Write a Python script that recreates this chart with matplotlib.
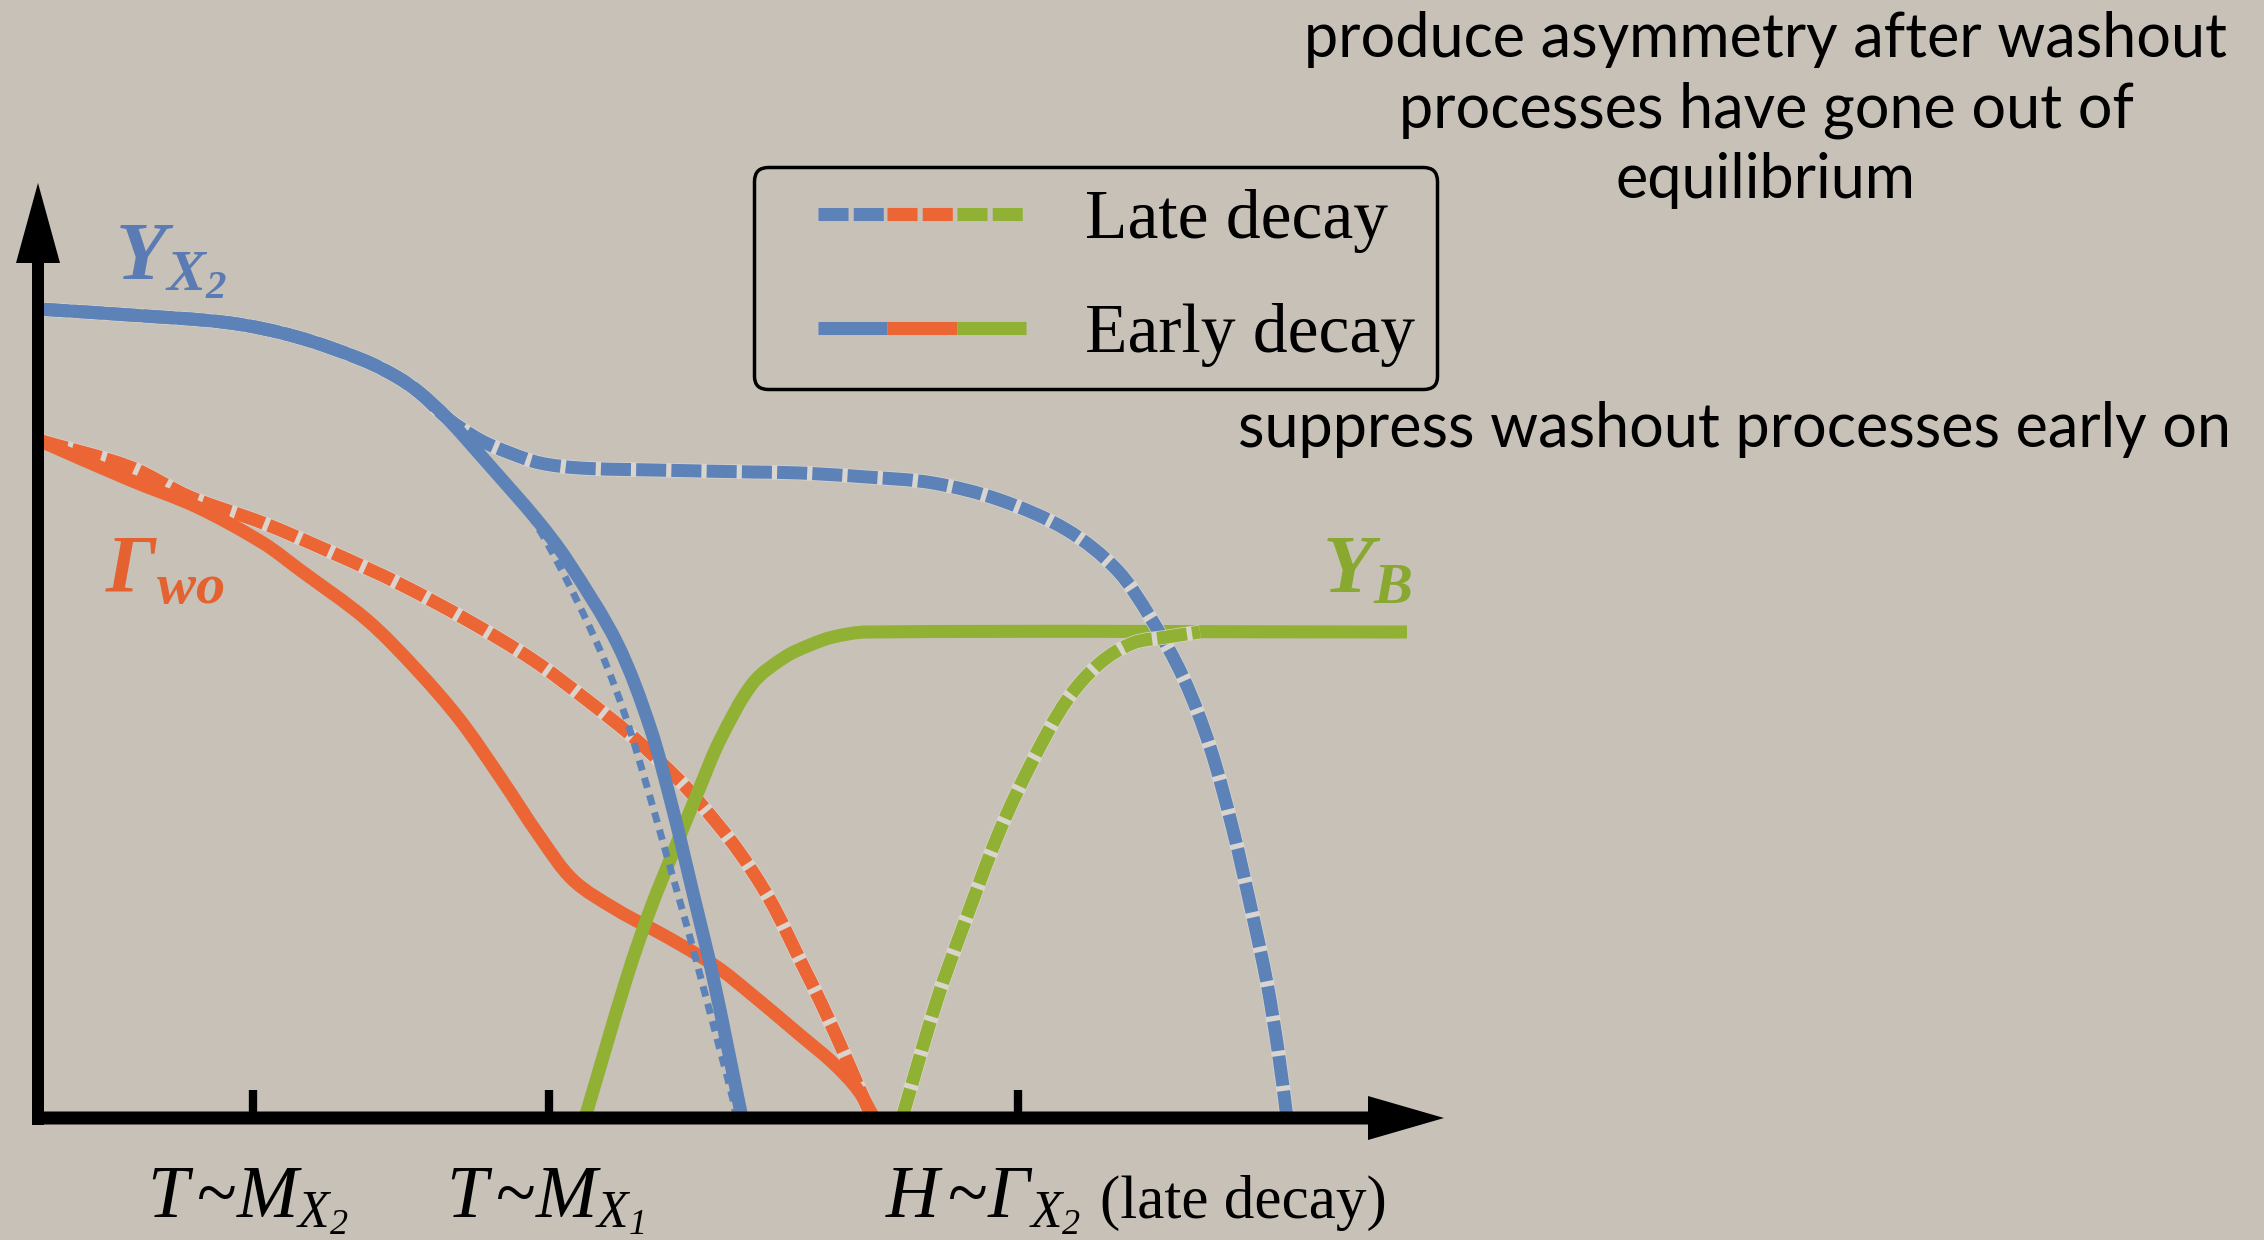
import matplotlib
matplotlib.use("Agg")
import numpy as np
import matplotlib.pyplot as plt
from matplotlib.lines import Line2D
from matplotlib.legend_handler import HandlerTuple
from matplotlib.path import Path
from matplotlib.patches import PathPatch

plt.rcParams.update({
    "mathtext.fontset": "custom",
    "mathtext.rm": "Liberation Serif",
    "mathtext.it": "Liberation Serif:italic",
    "mathtext.bf": "Liberation Serif:bold",
    "mathtext.bfit": "Liberation Serif:italic:bold",
    "mathtext.sf": "Liberation Serif:italic",
    "mathtext.fallback": "stix",
})

BG = "#c7c1b7"
GAP = "#d9d5ce"
BLUE = "#5c82b8"
ORANGE = "#eb6535"
GREEN = "#91b134"

# Y_X2 abundance, early decay (solid)
yx2_early_x = [0.00, 0.92, 1.92, 2.59, 3.25, 3.59, 3.82, 4.09, 4.52, 4.99, 5.29,
               5.79, 6.12, 6.35, 6.55, 6.75, 7.04]
yx2_early_y = [8.09, 8.03, 7.95, 7.81, 7.58, 7.41, 7.25, 7.00, 6.52, 5.98, 5.58,
               4.75, 3.91, 3.08, 2.25, 1.41, 0.00]

# Y_X2 variant (dotted)
yx2_alt_x = [4.09, 4.62, 4.92, 5.22, 5.62, 5.87, 6.10, 6.30, 6.50, 6.66, 6.82, 6.95, 6.98]
yx2_alt_y = [7.00, 6.40, 6.03, 5.51, 4.68, 4.03, 3.28, 2.58, 1.88, 1.28, 0.68, 0.18, 0.00]

# Y_X2 abundance, late decay (dashed)
yx2_late_x = [0.00, 0.92, 1.92, 2.59, 3.25, 3.59, 3.82, 4.09, 4.42, 4.72, 5.02,
              5.42, 6.15, 7.15, 7.62, 8.29, 8.95, 9.62, 10.29, 10.79, 11.12,
              11.45, 11.72, 11.95, 12.15, 12.29, 12.40, 12.49]
yx2_late_y = [8.09, 8.03, 7.95, 7.81, 7.58, 7.41, 7.25, 7.00, 6.78, 6.65, 6.55,
              6.50, 6.48, 6.46, 6.45, 6.41, 6.35, 6.18, 5.88, 5.48, 5.01,
              4.41, 3.71, 2.88, 2.01, 1.35, 0.68, 0.00]

# washout rate, early decay (solid)
gwo_early_x = [0.00, 0.92, 1.59, 2.25, 2.62, 3.29, 3.79, 4.22, 4.62, 5.02, 5.35,
               5.79, 6.29, 6.79, 7.12, 7.62, 7.95, 8.20, 8.36]
gwo_early_y = [6.78, 6.38, 6.11, 5.75, 5.48, 4.98, 4.48, 3.98, 3.41, 2.81, 2.38,
               2.08, 1.81, 1.51, 1.25, 0.83, 0.55, 0.28, 0.00]

# washout rate, late decay (dashed)
gwo_late_x = [0.00, 0.92, 1.52, 2.25, 2.95, 3.62, 4.29, 4.95, 5.45, 5.95, 6.39,
              6.62, 6.99, 7.32, 7.62, 7.85, 8.12, 8.34]
gwo_late_y = [6.78, 6.51, 6.21, 5.95, 5.65, 5.34, 4.98, 4.58, 4.21, 3.81, 3.40,
              3.15, 2.69, 2.18, 1.58, 1.11, 0.51, 0.00]

# baryon asymmetry, early decay (solid)
yb_early_x = [5.47, 5.89, 6.12, 6.39, 6.62, 6.82, 7.15, 7.47, 7.72, 7.95, 8.29, 13.69]
yb_early_y = [0.00, 1.41, 2.08, 2.75, 3.31, 3.78, 4.35, 4.61, 4.73, 4.81, 4.86, 4.86]

# baryon asymmetry, late decay (dashed)
yb_late_x = [8.64, 8.99, 9.25, 9.62, 9.95, 10.29, 10.62, 10.95, 11.29, 11.62]
yb_late_y = [0.00, 1.18, 1.91, 2.88, 3.58, 4.18, 4.55, 4.75, 4.81, 4.86]

tick_x = [2.15, 5.11, 9.80]
legend_labels = ["Late decay", "Early decay"]
notes_top = ["produce asymmetry after washout",
             "processes have gone out of",
             "equilibrium"]
note_bottom = "suppress washout processes early on"

LW = 9.4
DASH = (2.3, 0.4)


def smooth_curve(ax, xs, ys, **kw):
    """Draw a curve through the points as cubic Bezier segments."""
    p = np.column_stack([xs, ys]).astype(float)
    d = np.hypot(*np.diff(p, axis=0).T)
    m = np.zeros_like(p)
    m[0] = (p[1] - p[0]) / d[0]
    m[-1] = (p[-1] - p[-2]) / d[-1]
    for i in range(1, len(p) - 1):
        m[i] = (p[i + 1] - p[i - 1]) / (d[i - 1] + d[i])
    verts = [p[0]]
    codes = [Path.MOVETO]
    for i in range(len(p) - 1):
        verts += [p[i] + m[i] * d[i] / 3, p[i + 1] - m[i + 1] * d[i] / 3, p[i + 1]]
        codes += [Path.CURVE4] * 3
    ax.add_patch(PathPatch(Path(verts, codes), fill=False, capstyle="butt", **kw))


def dashed_curve(ax, xs, ys, color, z):
    # pale underlay so the gaps between dashes read lighter than the background
    smooth_curve(ax, xs, ys, ec=GAP, lw=LW + 1.0, zorder=z - 0.05)
    smooth_curve(ax, xs, ys, ec=color, lw=LW, ls=(0, DASH), zorder=z)


fig = plt.figure(figsize=(22.64, 12.40), dpi=100, facecolor=BG)
ax = fig.add_axes([0, 0, 1, 1])
ax.set_facecolor(BG)
ax.set_xlim(-0.38, 22.26)
ax.set_ylim(-1.22, 11.18)
ax.axis("off")

dashed_curve(ax, gwo_late_x, gwo_late_y, ORANGE, 1)
smooth_curve(ax, gwo_early_x, gwo_early_y, ec=ORANGE, lw=LW, zorder=2)
smooth_curve(ax, yb_early_x, yb_early_y, ec=GREEN, lw=LW, zorder=3)
smooth_curve(ax, yx2_alt_x, yx2_alt_y, ec=BLUE, lw=5, ls=(0, (1.5, 1.1)), zorder=3.3)
dashed_curve(ax, yx2_late_x, yx2_late_y, BLUE, 3.6)
smooth_curve(ax, yx2_early_x, yx2_early_y, ec=BLUE, lw=LW, zorder=4)
dashed_curve(ax, yb_late_x, yb_late_y, GREEN, 4.6)

# axes with arrow heads
ax.arrow(0, -0.07, 0, 9.42, width=0.12, head_width=0.44, head_length=0.8,
         length_includes_head=True, fc="black", ec="none", zorder=6)
ax.arrow(-0.06, 0, 14.12, 0, width=0.13, head_width=0.44, head_length=0.76,
         length_includes_head=True, fc="black", ec="none", zorder=6)
ax.vlines(tick_x, 0, 0.28, color="black", lw=6, zorder=6)

# curve labels
ax.text(0.77, 8.38, r"$\mathbfit{Y}_{\mathbfit{X}_{\mathbfit{2}}}$", color="#5a7bb3",
        fontsize=60, ha="left", va="baseline")
ax.text(0.67, 5.25, r"$\mathbfit{\Gamma}_{\mathbfit{wo}}$", color="#e3622f",
        fontsize=60, ha="left", va="baseline")
ax.text(12.84, 5.25, r"$\mathbfit{Y}_{\mathbfit{B}}$", color="#88a830",
        fontsize=60, ha="left", va="baseline")

# x-axis labels
xlab = dict(family="Liberation Serif", fontsize=53, ha="left", va="baseline")
ax.text(1.09, -1.00, r"$T\,$~$M_{X_\mathsf{2}}$", **xlab)
ax.text(4.08, -1.00, r"$T\,$~$M_{X_\mathsf{1}}$", **xlab)
ax.text(8.47, -1.00, r"$H\,$~$\mathsf{\Gamma}_{X_\mathsf{2}}$", **xlab)
ax.text(10.62, -1.00, "(late decay)", family="Liberation Serif", fontsize=44,
        ha="left", va="baseline")

# notes on the right
for i, line in enumerate(notes_top):
    ax.text(17.28, 10.61 - 0.705 * i, line, family="Lato", fontsize=44,
            ha="center", va="baseline")
ax.text(16.97, 6.71, note_bottom, family="Lato", fontsize=44, ha="center", va="baseline")

# legend with tri-colour handles
late_h = tuple(Line2D([], [], color=c, lw=LW, dashes=DASH) for c in (BLUE, ORANGE, GREEN))
early_h = tuple(Line2D([], [], color=c, lw=LW, solid_capstyle="butt") for c in (BLUE, ORANGE, GREEN))
leg = ax.legend([late_h, early_h], legend_labels,
                handler_map={tuple: HandlerTuple(ndivide=None, pad=0.0, xpad=0.6)},
                loc="upper left", bbox_to_anchor=(754 / 2264, 1 - 167 / 1240),
                bbox_transform=fig.transFigure, borderaxespad=0,
                prop={"family": "Liberation Serif", "size": 50},
                handlelength=3.6, handletextpad=0.84, borderpad=0.32,
                labelspacing=0.72, fancybox=True, framealpha=1)
leg.get_frame().set_facecolor(BG)
leg.get_frame().set_edgecolor("black")
leg.get_frame().set_linewidth(2.5)

fig.savefig("out.png", dpi=100, facecolor=BG)
